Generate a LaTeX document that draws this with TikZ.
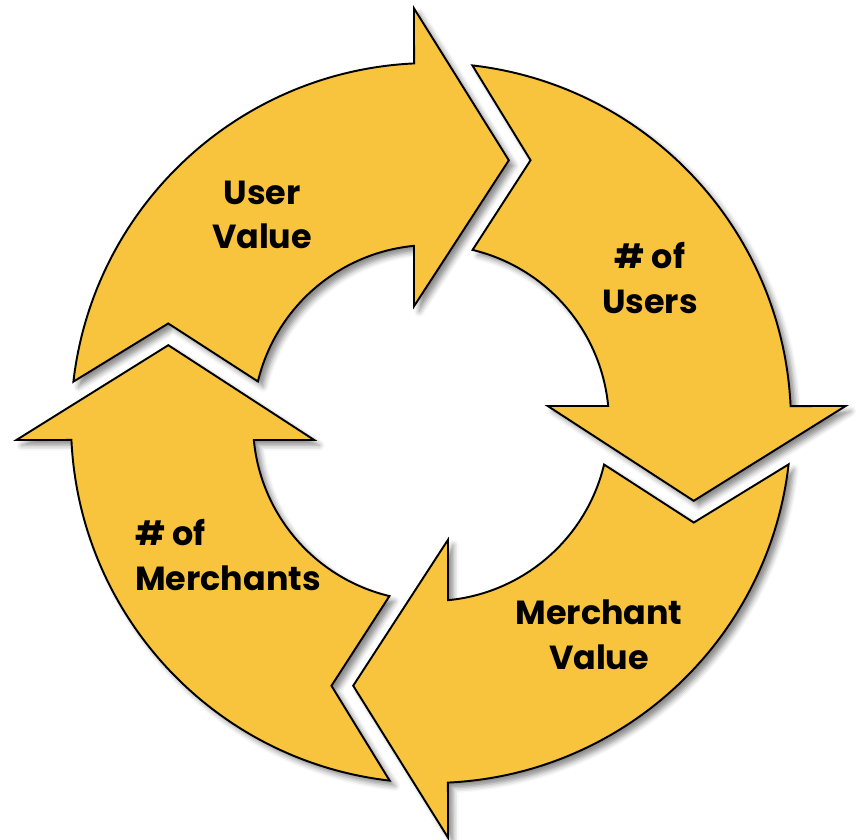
\documentclass[tikz,border=0pt]{standalone}
\usepackage{fontspec}
\setmainfont{Poppins}
\usepackage{xcolor}
\usepackage{tikz}
\usetikzlibrary{shadows,shadows.blur}

\definecolor{cycleyellow}{HTML}{F8C33D}

\tikzset{
  cycle_arrow/.style={fill=cycleyellow, draw=black, line width=1.1pt, line join=miter,
    blur shadow={shadow xshift=3pt, shadow yshift=-3pt, shadow opacity=45, shadow blur radius=3pt}},
  cycle_label/.style={font=\fontsize{19}{25.5}\selectfont\bfseries, text=black}
}

\begin{document}
\begin{tikzpicture}[x=0.02cm, y=0.02cm]

\useasboundingbox (-431,-416) rectangle (426,423);

% four curved arrows, turned by 90 degrees each
\foreach \rot in {0,-90,-180,-270} {
  \draw [cycle_arrow, rotate=\rot] (173.4:360) arc [start angle=173.4, end angle=92.7, radius=360] -- (92.35:415) -- (73.5:274) -- (98.28:118) -- (95.48:178) arc [start angle=95.48, end angle=166.5, radius=178] -- (159.25:281) -- cycle;
}

% labels
\node [cycle_label, align=center] at (-169,208) (user_value) {User\\Value};
\node [cycle_label, align=center] at (219,145) (num_users) {\# of\\Users};
\node [cycle_label, align=center] at (168,-212) (merchant_value) {Merchant\\Value};
\node [cycle_label, align=left, anchor=west] at (-302,-132) (num_merchants) {\# of\\Merchants};

\end{tikzpicture}
\end{document}
